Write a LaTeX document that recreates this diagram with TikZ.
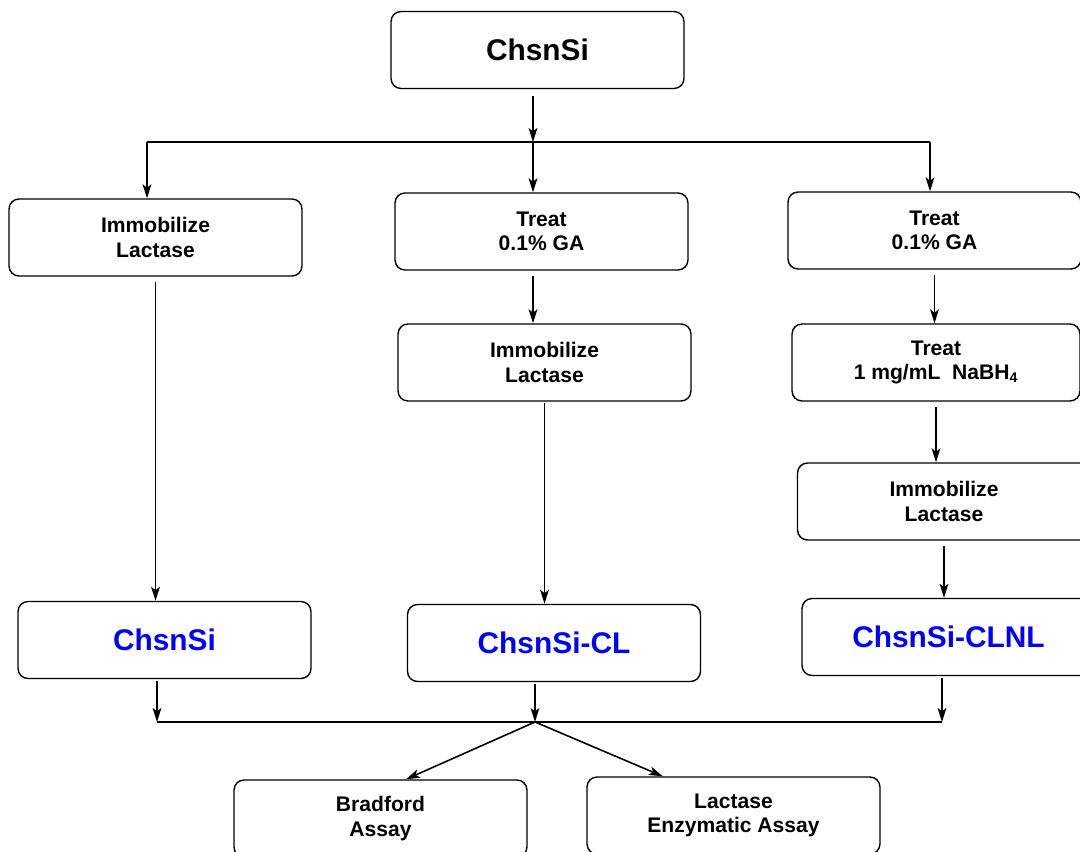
\documentclass[tikz,border=0pt]{standalone}
\usepackage{fontspec}
\setmainfont{Liberation Sans}
\usetikzlibrary{arrows.meta,calc}

\begin{document}
\begin{tikzpicture}[x=0.02cm,y=-0.02cm,
      box/.style={draw,rounded corners=0.2cm,line width=0.8pt,
            minimum width=5.86cm,minimum height=1.54cm,align=center,
            font=\bfseries\fontsize{12}{14}\selectfont},
      title/.style={box,font=\bfseries\fontsize{17}{20}\selectfont},
      result/.style={title,text=blue},
      arr/.style={-{Stealth[length=8pt,width=5pt,inset=2pt]},line width=0.9pt},
      line/.style={line width=0.9pt}]
      \clip (0,0) rectangle (1080,852);

      \node[title] (top) at (537.5,50) {ChsnSi};

      \node[box] (L1) at (155.5,237.5) {Immobilize\\Lactase};
      \node[box] (M1) at (541.5,231.5) {Treat\\0.1\% GA};
      \node[box] (R1) at (934.5,230.5) {Treat\\0.1\% GA};
      \node[box] (M2) at (544.5,362.5) {Immobilize\\Lactase};
      \node[box,minimum width=5.76cm] (R2) at (936,362.5)
            {Treat\\1 mg/mL\ \ NaBH\textsubscript{4}};
      \node[box] (R3) at (944,501.5) {Immobilize\\Lactase};

      \node[result] (L2) at (164.5,640) {ChsnSi};
      \node[result] (M3) at (554,643) {ChsnSi-CL};
      \node[result] (R4) at (948.5,637) {ChsnSi-CLNL};

      \node[box] (B1) at (380.5,818.5) {Bradford\\Assay};
      \node[box] (B2) at (733.5,815.5) {Lactase\\Enzymatic Assay};

      \coordinate (split) at (533,142);
      \coordinate (splitL) at (147,142);
      \coordinate (splitR) at (930,142);
      \coordinate (merge) at (535,722);
      \coordinate (mergeL) at (157,722);
      \coordinate (mergeR) at (942,722);

      \draw[arr,shorten <=4pt] (split |- top.south) -- (split);
      \draw[line] (splitL) -- (splitR);
      \draw[arr] (splitL) -- (splitL |- L1.north);
      \draw[arr] (split) -- (split |- M1.north);
      \draw[arr] (splitR) -- (splitR |- R1.north);

      \draw[arr,shorten <=3pt] (L1.south) -- (L1.south |- L2.north);
      \draw[arr,shorten <=3pt] (split |- M1.south) -- (split |- M2.north);
      \draw[arr,shorten <=1pt] (M2.south) -- (M2.south |- M3.north);
      \draw[arr,shorten <=3pt] (R1.south) -- (R1.south |- R2.north);
      \draw[arr,shorten <=3pt] (R2.south) -- (R2.south |- R3.north);
      \draw[arr,shorten <=3pt] (R3.south) -- (R3.south |- R4.north);

      \draw[arr,shorten <=1pt] (mergeL |- L2.south) -- (mergeL);
      \draw[arr,shorten <=1pt] (merge |- M3.south) -- (merge);
      \draw[arr,shorten <=1pt] (mergeR |- R4.south) -- (mergeR);
      \draw[line] (mergeL) -- (mergeR);

      \draw[arr] (merge) -- (B1.57);
      \draw[arr] (merge) -- (B2.151);
\end{tikzpicture}
\end{document}
